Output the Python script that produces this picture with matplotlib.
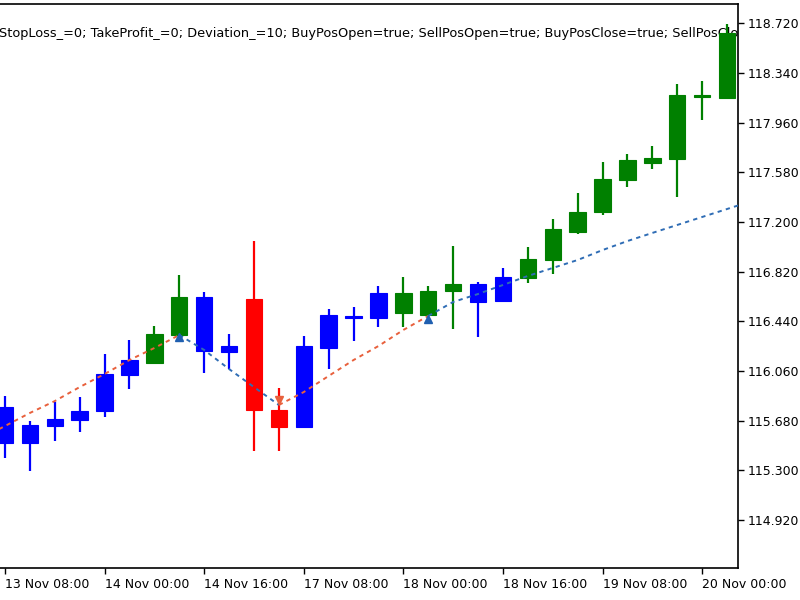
import matplotlib
matplotlib.use("Agg")
import matplotlib.pyplot as plt
import numpy as np

# H4 candles, bar index 0 = 13 Nov 08:00
opens = [115.787, 115.509, 115.639, 115.685, 115.754, 116.029, 116.121, 116.335,
         116.626, 116.251, 116.611, 115.761, 115.631, 116.236, 116.465, 116.465,
         116.504, 116.488, 116.672, 116.725, 116.595, 116.771, 116.909, 117.123,
         117.276, 117.521, 117.651, 117.682, 118.156, 118.148]
highs = [115.871, 115.680, 115.823, 115.861, 116.190, 116.297, 116.404, 116.794,
         116.664, 116.343, 117.054, 115.930, 116.328, 116.534, 116.549, 116.710,
         116.779, 116.710, 117.016, 116.741, 116.848, 117.008, 117.223, 117.422,
         117.659, 117.720, 117.781, 118.255, 118.278, 118.714]
lows = [115.394, 115.297, 115.527, 115.593, 115.708, 115.922, 116.121, 116.335,
        116.045, 116.075, 115.448, 115.448, 115.631, 116.075, 116.289, 116.396,
        116.396, 116.488, 116.381, 116.320, 116.595, 116.733, 116.802, 117.108,
        117.253, 117.467, 117.605, 117.391, 117.980, 118.148]
closes = [115.509, 115.647, 115.693, 115.754, 116.037, 116.144, 116.343, 116.626,
          116.213, 116.205, 115.761, 115.631, 116.251, 116.488, 116.481, 116.657,
          116.657, 116.672, 116.725, 116.588, 116.779, 116.917, 117.146, 117.276,
          117.529, 117.674, 117.689, 118.171, 118.171, 118.646]
candle_colors = ["b", "b", "b", "b", "b", "b", "g", "g", "b", "b", "r", "r", "b", "b", "b",
                 "b", "g", "g", "g", "b", "b", "g", "g", "g", "g", "g", "g", "g", "g", "g"]

# trailing level lines (bar index, value)
red_line_1_x = [-1, 0, 1, 2, 3, 4, 5, 6, 7]
red_line_1 = [115.540, 115.639, 115.739, 115.830, 115.937, 116.037, 116.144, 116.236, 116.335]
blue_line_1_x = [7, 8, 9, 10, 11]
blue_line_1 = [116.335, 116.221, 116.075, 115.937, 115.800]
red_line_2_x = [11, 12, 13, 14, 15, 16, 17]
red_line_2 = [115.800, 115.899, 116.022, 116.144, 116.251, 116.374, 116.481]
blue_line_2_x = list(range(17, 31))
blue_line_2 = [116.481, 116.588, 116.649, 116.718, 116.787, 116.848, 116.909, 116.985,
               117.054, 117.116, 117.177, 117.238, 117.299, 117.360]

# signal arrows
buy_x = [7, 17]
buy_y = [116.318, 116.458]
sell_x = [11]
sell_y = [115.840]

xtick_pos = [0, 4, 8, 12, 16, 20, 24, 28]
xtick_labels = ["13 Nov 08:00", "14 Nov 00:00", "14 Nov 16:00", "17 Nov 08:00",
                "18 Nov 00:00", "18 Nov 16:00", "19 Nov 08:00", "20 Nov 00:00"]
ytick_vals = [114.920, 115.300, 115.680, 116.060, 116.440, 116.820, 117.200,
              117.580, 117.960, 118.340, 118.720]

params_text = ("StopLoss_=0; TakeProfit_=0; Deviation_=10; BuyPosOpen=true; "
               "SellPosOpen=true; BuyPosClose=true; SellPosClose=true")

color_map = {"b": "#0000FF", "g": "#008000", "r": "#FF0000"}

fig = plt.figure(figsize=(8, 6), dpi=100)
ax = fig.add_axes([0.0, 0.0533, 0.9225, 0.94])

x = np.arange(len(opens))
o = np.array(opens)
c = np.array(closes)
cols = [color_map[k] for k in candle_colors]

ax.vlines(x, lows, highs, colors=cols, linewidth=1.6, zorder=2)
ax.bar(x, np.abs(c - o), bottom=np.minimum(o, c), width=0.66, color=cols,
       edgecolor=cols, linewidth=0.8, zorder=3)

dash = (0, (2.2, 2.2))
for lx, ly, lc in [(red_line_1_x, red_line_1, "#E8603C"),
                   (blue_line_1_x, blue_line_1, "#2F6DB5"),
                   (red_line_2_x, red_line_2, "#E8603C"),
                   (blue_line_2_x, blue_line_2, "#2F6DB5")]:
    ax.plot(lx, ly, color=lc, linestyle=dash, linewidth=1.4, zorder=4)

ax.plot(buy_x, buy_y, linestyle="none", marker="^", markersize=6,
        color="#1F5FB0", zorder=5)
ax.plot(sell_x, sell_y, linestyle="none", marker="v", markersize=6,
        color="#E8603C", zorder=5)

ax.text(-0.25, 118.645, params_text, fontsize=9.3, color="black",
        ha="left", va="center", clip_on=True, zorder=1)

ax.set_xlim(-0.2, 29.44)
ax.set_ylim(114.553, 118.867)

ax.set_xticks(xtick_pos)
ax.set_xticklabels(xtick_labels, ha="left", fontsize=9)
ax.set_yticks(ytick_vals)
ax.set_yticklabels(["%.3f" % v for v in ytick_vals], fontsize=9)

ax.yaxis.tick_right()
ax.tick_params(axis="y", direction="out", length=4, width=1, pad=3)
ax.tick_params(axis="x", direction="out", length=4, width=1, pad=3)
ax.spines["left"].set_visible(False)
for s in ["top", "right", "bottom"]:
    ax.spines[s].set_linewidth(1.2)

fig.savefig("out.png", dpi=100)
plt.close(fig)
